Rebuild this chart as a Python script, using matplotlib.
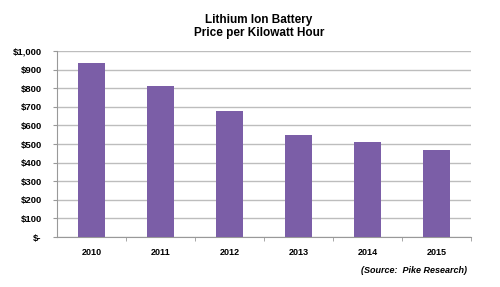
import matplotlib
matplotlib.use("Agg")
import matplotlib.pyplot as plt
from matplotlib.ticker import FuncFormatter

years = ["2010", "2011", "2012", "2013", "2014", "2015"]
prices = [937, 810, 677, 548, 509, 469]
yticks = list(range(0, 1001, 100))

plt.rcParams['font.family'] = ['Liberation Sans', 'DejaVu Sans']

fig = plt.figure(figsize=(5.0, 2.87), dpi=100)
ax = fig.add_axes([0.114, 0.174, 0.828, 0.648])

x = list(range(len(years)))
ax.bar(x, prices, width=0.385, color="#7b5ea7", zorder=3)
ax.set_xlim(-0.5, len(years) - 0.5)
ax.set_ylim(0, 1000)
ax.set_yticks(yticks)
ax.set_xticks(x)
ax.set_xticklabels(years, fontsize=6.5, fontweight='bold')

def fmt(v, pos):
    if v == 0:
        return "$-"
    return "${:,.0f}".format(v)

ax.yaxis.set_major_formatter(FuncFormatter(fmt))
for lab in ax.get_yticklabels():
    lab.set_fontsize(6.8)
    lab.set_fontweight('bold')

ax.grid(axis='y', color='#bdbdbd', linewidth=1.0, zorder=0)
for s in ['top', 'right']:
    ax.spines[s].set_visible(False)
ax.spines['left'].set_color('#999999')
ax.spines['bottom'].set_color('#999999')
ax.tick_params(axis='y', length=3, color='#999999', pad=8)
ax.tick_params(axis='x', length=0, pad=8)
ax.set_xticks([i + 0.5 for i in range(len(years))], minor=True)
ax.tick_params(axis='x', which='minor', length=3, color='#999999')

fig.text(0.518, 0.908, "Lithium Ion Battery\nPrice per Kilowatt Hour",
         ha='center', va='center', fontsize=8.5, fontweight='bold', linespacing=1.2)
fig.text(0.934, 0.058, "(Source:  Pike Research)", ha='right', va='center',
         fontsize=6.5, fontweight='bold', fontstyle='italic')

fig.savefig("out.png", dpi=100, facecolor='white')
